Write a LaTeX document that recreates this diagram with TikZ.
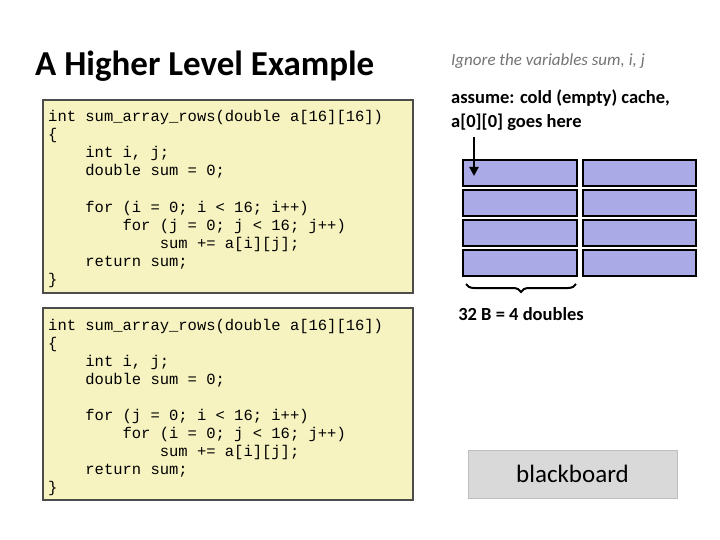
\documentclass[tikz,border=0pt]{standalone}
\usepackage{fontspec}
\setmainfont{Carlito}
\newfontfamily\codefont{Liberation Mono}
\usetikzlibrary{decorations.pathreplacing,arrows.meta}
\begin{document}
\begin{tikzpicture}[x=1pt,y=-1pt,
  codebox/.style={draw=black!70,line width=1.2pt,fill={rgb,255:red,246;green,243;blue,192}},
  code/.style={anchor=base west,inner sep=0pt,font=\codefont\fontsize{15.5}{18}\selectfont},
  cell/.style={draw=black,line width=2.4pt,fill={rgb,255:red,170;green,170;blue,230}},
  lbl/.style={anchor=base west,inner sep=0pt,font=\bfseries\fontsize{18.5}{22}\selectfont}]
\useasboundingbox (0,0) rectangle (720,540);
\node[anchor=base west,inner sep=0pt,font=\bfseries\fontsize{35}{40}\selectfont] (title) at (35,76) {A Higher Level Example};
\draw[codebox] (43,100) rectangle (413,293);
\draw[codebox] (43,308) rectangle (413,500);
\foreach \y/\t [count=\i] in {122/{int sum\_array\_rows(double a[16][16])},140/\{,158/{\ \ \ \ int i, j;},176/{\ \ \ \ double sum = 0;},212/{\ \ \ \ for (i = 0; i < 16; i++)},230/{\ \ \ \ \ \ \ \ for (j = 0; j < 16; j++)},248/{\ \ \ \ \ \ \ \ \ \ \ \ sum += a[i][j];},266/{\ \ \ \ return sum;},284/\}}
  \node[code] (ca\i) at (48,\y) {\t};
\foreach \y/\t [count=\i] in {330/{int sum\_array\_rows(double a[16][16])},348/\{,366/{\ \ \ \ int i, j;},384/{\ \ \ \ double sum = 0;},420/{\ \ \ \ for (j = 0; i < 16; i++)},438/{\ \ \ \ \ \ \ \ for (i = 0; j < 16; j++)},456/{\ \ \ \ \ \ \ \ \ \ \ \ sum += a[i][j];},474/{\ \ \ \ return sum;},492/\}}
  \node[code] (cb\i) at (48,\y) {\t};
\node[anchor=base west,inner sep=0pt,font=\itshape\fontsize{17}{20}\selectfont,text=black!55] (ign) at (451,66) {Ignore the variables sum, i, j};
\node[lbl] (as1) at (451,104) {assume: cold (empty) cache,};
\node[lbl] (as2) at (451,128) {a[0][0] goes here};
\foreach \y [count=\r] in {160,190,220,250}{
  \draw[cell] (463,\y) rectangle (577,\y+26);
  \draw[cell] (583,\y) rectangle (696,\y+26);
}
\coordinate (astart) at (474,137);
\coordinate (aend) at (474,176);
\draw[line width=2.2pt,-{Triangle[length=9pt,width=9pt]}] (astart) -- (aend);
\draw[line width=2pt,decorate,decoration={brace,mirror,amplitude=8pt}] (466,284) -- (576,284);
\node[anchor=base,inner sep=0pt,font=\bfseries\fontsize{18.5}{22}\selectfont] (sz) at (521,320) {32 B = 4 doubles};
\node[draw={rgb,255:red,190;green,190;blue,190},fill={rgb,255:red,217;green,217;blue,217},minimum width=209pt,minimum height=48pt,font=\fontsize{25}{30}\selectfont] (bb) at (572.5,474) {blackboard};
\end{tikzpicture}
\end{document}
